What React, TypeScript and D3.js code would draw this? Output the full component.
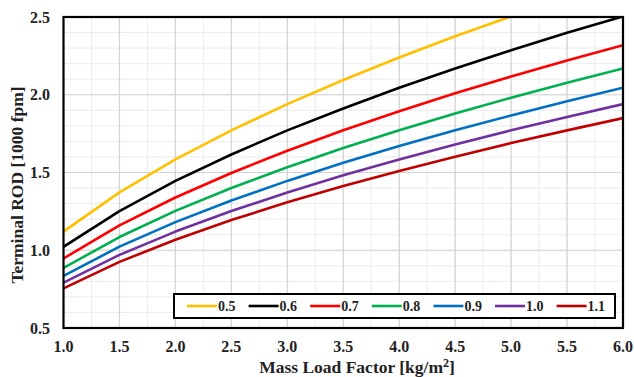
import React from "react";
import * as d3 from "d3";

const xValues = [1.0, 1.5, 2.0, 2.5, 3.0, 3.5, 4.0, 4.5, 5.0, 5.5, 6.0];
const seriesNames = ["0.5", "0.6", "0.7", "0.8", "0.9", "1.0", "1.1"];
const seriesColors = ["#FFC000", "#000000", "#FF0000", "#00B050", "#0070C0", "#7030A0", "#C00000"];
const s05 = [1.12, 1.372, 1.584, 1.771, 1.94, 2.095, 2.24, 2.376, 2.504, 2.627, 2.743];
const s06 = [1.022, 1.252, 1.446, 1.616, 1.771, 1.912, 2.045, 2.169, 2.286, 2.398, 2.504];
const s07 = [0.947, 1.16, 1.339, 1.497, 1.64, 1.772, 1.894, 2.009, 2.117, 2.221, 2.319];
const s08 = [0.886, 1.085, 1.253, 1.4, 1.534, 1.657, 1.771, 1.879, 1.981, 2.077, 2.169];
const s09 = [0.835, 1.023, 1.181, 1.32, 1.446, 1.562, 1.67, 1.771, 1.867, 1.958, 2.045];
const s10 = [0.792, 0.97, 1.12, 1.252, 1.372, 1.482, 1.584, 1.68, 1.771, 1.857, 1.94];
const s11 = [0.755, 0.925, 1.068, 1.194, 1.308, 1.413, 1.51, 1.602, 1.689, 1.771, 1.85];
const seriesValues = [s05, s06, s07, s08, s09, s10, s11];
const xTicks = [1.0, 1.5, 2.0, 2.5, 3.0, 3.5, 4.0, 4.5, 5.0, 5.5, 6.0];
const yTicks = [0.5, 1.0, 1.5, 2.0, 2.5];

export default function App() {
  const W = 634, H = 377;
  const left = 63.5, right = 623, top = 17, bottom = 328;
  const x = d3.scaleLinear().domain([1, 6]).range([left, right]);
  const y = d3.scaleLinear().domain([0.5, 2.5]).range([bottom, top]);
  const font = "'Liberation Serif', 'Times New Roman', serif";
  const minorX = d3.range(1, 6.0001, 0.25);
  const minorY = d3.range(0.5, 2.5001, 0.1);
  const line = d3
    .line<[number, number]>()
    .x((d) => x(d[0]))
    .y((d) => y(d[1]))
    .curve(d3.curveLinear);

  const legendStartX = 187;
  const legendStep = 61.6;
  const legendY = 306;

  return (
    <svg
      width={W}
      height={H}
      style={{ position: "absolute", left: 0, top: 0, background: "#fff" }}
      fontFamily={font}
    >
      <defs>
        <clipPath id="plotclip">
          <rect x={left} y={top} width={right - left} height={bottom - top} />
        </clipPath>
      </defs>
      <rect x={0} y={0} width={W} height={H} fill="#fff" />
      {minorX.map((v, i) => (
        <line key={"mx" + i} x1={x(v)} x2={x(v)} y1={top} y2={bottom} stroke="#ececec" strokeWidth={1} />
      ))}
      {minorY.map((v, i) => (
        <line key={"my" + i} y1={y(v)} y2={y(v)} x1={left} x2={right} stroke="#ececec" strokeWidth={1} />
      ))}
      {xTicks.map((v, i) => (
        <line key={"gx" + i} x1={x(v)} x2={x(v)} y1={top} y2={bottom} stroke="#d4d4d4" strokeWidth={1.2} />
      ))}
      {yTicks.map((v, i) => (
        <line key={"gy" + i} y1={y(v)} y2={y(v)} x1={left} x2={right} stroke="#d4d4d4" strokeWidth={1.2} />
      ))}
      <g clipPath="url(#plotclip)">
        {seriesValues.map((vals, si) => (
          <path
            key={"s" + si}
            d={line(vals.map((v, i) => [xValues[i], v] as [number, number])) || ""}
            fill="none"
            stroke={seriesColors[si]}
            strokeWidth={2.6}
            strokeLinejoin="round"
          />
        ))}
      </g>
      <rect x={left} y={top} width={right - left} height={bottom - top} fill="none" stroke="#000" strokeWidth={2.2} />
      {xTicks.map((v, i) => (
        <text key={"tx" + i} x={x(v)} y={352} textAnchor="middle" fontSize={16} fontWeight="bold" fill="#222">
          {v.toFixed(1)}
        </text>
      ))}
      {yTicks.map((v, i) => (
        <text key={"ty" + i} x={50} y={y(v)} dy="0.35em" textAnchor="end" fontSize={16} fontWeight="bold" fill="#222">
          {v.toFixed(1)}
        </text>
      ))}
      <text x={357} y={373} textAnchor="middle" fontSize={17.5} fontWeight="bold" fill="#222">
        Mass Load Factor [kg/m<tspan dy="-6" fontSize={12}>2</tspan><tspan dy="6">]</tspan>
      </text>
      <text
        transform={`translate(23, 185) rotate(-90)`}
        textAnchor="middle"
        fontSize={17.5}
        fontWeight="bold"
        fill="#222"
      >
        Terminal ROD [1000 fpm]
      </text>
      <rect x={174} y={294} width={441} height={24} fill="#fff" stroke="#000" strokeWidth={2} />
      {seriesNames.map((n, i) => {
        const lx = legendStartX + i * legendStep;
        return (
          <g key={"lg" + i}>
            <line x1={lx} x2={lx + 30} y1={legendY} y2={legendY} stroke={seriesColors[i]} strokeWidth={2.6} />
            <text x={lx + 31} y={legendY} dy="0.35em" fontSize={14} fontWeight="bold" fill="#222">
              {n}
            </text>
          </g>
        );
      })}
    </svg>
  );
}
